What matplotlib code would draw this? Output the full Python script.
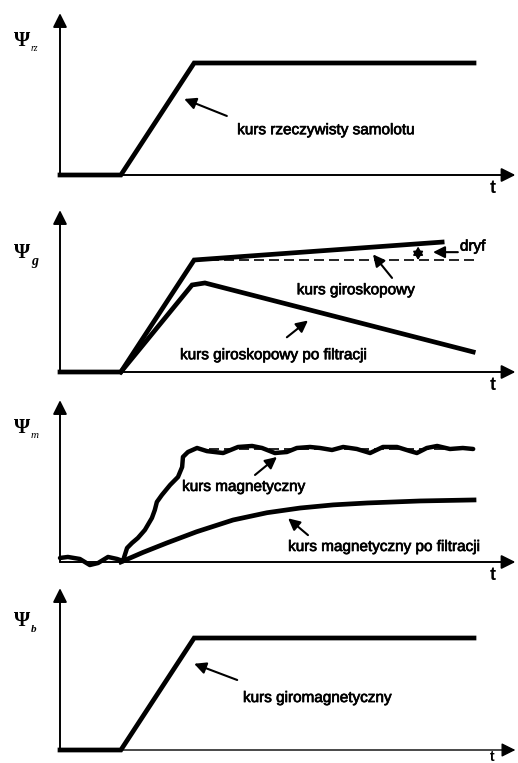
import matplotlib.pyplot as plt
import matplotlib.patheffects as pe

# heading curves, time in arbitrary units, heading normalised to the final value
t_true = [0.0, 1.47, 3.24, 10.0]
psi_true = [0.0, 0.0, 1.0, 1.0]

t_gyro = [0.0, 1.47, 3.24, 9.23]
psi_gyro = [0.0, 0.0, 1.0, 1.16]
t_gyro_filt = [1.47, 3.19, 3.50, 9.98]
psi_gyro_filt = [0.0, 0.777, 0.795, 0.179]

t_mag = [0.0, 0.19, 0.48, 0.72, 0.92, 1.16, 1.38, 1.52, 1.62, 1.74, 1.88, 2.05, 2.22,
         2.29, 2.34, 2.46, 2.66, 2.85, 2.95, 2.97, 3.09, 3.31, 3.55, 3.94, 4.30, 4.64,
         4.88, 5.19, 5.48, 5.72, 6.04, 6.28, 6.57, 6.84, 7.17, 7.49, 7.80, 8.14, 8.45,
         8.62, 8.86, 9.11, 9.42, 9.73, 9.98]
psi_mag = [0.036, 0.045, 0.027, -0.027, -0.009, 0.045, 0.027, 0.009, 0.125, 0.17, 0.214,
           0.286, 0.393, 0.464, 0.536, 0.598, 0.688, 0.759, 0.848, 0.938, 0.982, 1.018,
           0.99, 0.973, 1.027, 1.036, 1.018, 0.973, 0.982, 1.018, 1.027, 1.018, 1.0,
           1.027, 1.009, 0.973, 1.027, 1.027, 0.991, 0.973, 1.018, 1.036, 1.009, 1.018,
           1.009]
t_mag_filt = [1.47, 2.0, 2.58, 3.3, 4.18, 5.0, 5.80, 6.6, 7.42, 8.7, 10.0]
psi_mag_filt = [0.0, 0.085, 0.17, 0.27, 0.375, 0.44, 0.482, 0.51, 0.527, 0.545, 0.554]

t_ref = [3.24, 10.0]
psi_ref = [1.0, 1.0]

t_giromag = [0.0, 1.47, 3.24, 10.0]
psi_giromag = [0.0, 0.0, 1.0, 1.0]

# figure geometry (pixels)
W, H = 518, 763
X0, PX_T = 60, 41.4          # pixel of t=0, pixels per time unit
PX_PSI = 112                 # pixels per heading unit
bands = [(0, 197, 175), (197, 387, 372), (387, 577, 562), (577, 763, 750)]

fig = plt.figure(figsize=(W / 100, H / 100), dpi=100)
axes = []
for top, bot, base in bands:
    ax = fig.add_axes([0, 1 - bot / H, 1, (bot - top) / H])
    ax.set_xlim(-X0 / PX_T, (W - X0) / PX_T)
    ax.set_ylim(-(bot - base) / PX_PSI, (base - top) / PX_PSI)
    ax.axis('off')
    axes.append(ax)

LW = 3.4
sans = ['Liberation Sans', 'DejaVu Sans']
serif = ['Liberation Serif', 'DejaVu Serif']
heavy = [pe.withStroke(linewidth=0.5, foreground='black')]
head = dict(arrowstyle='-|>,head_length=0.7,head_width=0.35', color='black', lw=1.4,
            mutation_scale=12, shrinkA=0, shrinkB=0)
small_head = dict(arrowstyle='-|>,head_length=0.7,head_width=0.35', color='black', lw=1.5,
                  mutation_scale=10, shrinkA=0, shrinkB=0)


def frame(ax, psi_y, sub, sub_y, sub_style='italic', sub_weight='normal', sub_size=7,
          x_lw=1.4, t_y=-0.12, t_size=13):
    ax.annotate('', xy=(0, 1.445), xytext=(0, 0), arrowprops=head)
    ax.annotate('', xy=(11.0, 0), xytext=(0, 0), arrowprops=dict(head, lw=x_lw))
    ax.text(10.45, t_y, 't', fontsize=t_size, fontweight='bold', family=sans,
            ha='center', va='center')
    ax.text(-0.92, psi_y, 'Ψ', fontsize=15, fontweight='bold', family=serif,
            ha='center', va='center')
    ax.text(-0.70, sub_y, sub, fontsize=sub_size, style=sub_style, fontweight=sub_weight,
            family=serif, ha='left', va='center')


def label(ax, text, x, y, tail, tip, size=11):
    ax.text(x, y, text, fontsize=size, family=sans, ha='left', va='center',
            path_effects=heavy)
    ax.annotate('', xy=tip, xytext=tail, arrowprops=small_head)


# panel 1: true heading
ax = axes[0]
frame(ax, 1.20, 'rz', 1.13)
ax.plot(t_true, psi_true, color='black', lw=LW, solid_joinstyle='miter')
label(ax, 'kurs rzeczywisty samolotu', 4.28, 0.40, (4.03, 0.527), (3.0, 0.679))

# panel 2: gyro heading
ax = axes[1]
frame(ax, 1.06, 'g', 0.99, sub_weight='bold', sub_size=10)
ax.plot(t_ref, psi_ref, color='black', lw=1.2, ls=(0, (6, 3)))
ax.plot(t_gyro, psi_gyro, color='black', lw=LW, solid_joinstyle='miter')
ax.plot(t_gyro_filt, psi_gyro_filt, color='black', lw=LW, solid_joinstyle='miter')
label(ax, 'kurs giroskopowy', 5.72, 0.73, (8.02, 0.84), (7.56, 1.05))
label(ax, 'kurs giroskopowy po filtracji', 2.90, 0.15, (5.48, 0.31), (5.99, 0.46))
label(ax, 'dryf', 9.66, 1.12, (9.61, 1.07), (9.01, 1.07))
ax.annotate('', xy=(8.65, 1.12), xytext=(8.65, 1.0),
            arrowprops=dict(arrowstyle='<|-|>,head_length=0.5,head_width=0.3', color='black',
                            lw=1.2, mutation_scale=10, shrinkA=0, shrinkB=0))

# panel 3: magnetic heading
ax = axes[2]
frame(ax, 1.20, 'm', 1.13, sub_size=8)
ax.plot(t_ref, [1.01, 1.01], color='black', lw=1.2, ls=(0, (6, 3)))
ax.plot(t_mag, psi_mag, color='black', lw=3.2, solid_joinstyle='round', solid_capstyle='round')
ax.plot(t_mag_filt, psi_mag_filt, color='black', lw=LW)
label(ax, 'kurs magnetyczny', 2.95, 0.67, (4.71, 0.777), (5.24, 0.938))
label(ax, 'kurs magnetyczny po filtracji', 5.51, 0.134, (5.99, 0.24), (5.51, 0.39))

# panel 4: gyromagnetic heading
ax = axes[3]
frame(ax, 1.15, 'b', 1.08, sub_weight='bold', sub_size=8, x_lw=1.0, t_y=-0.06, t_size=10)
ax.plot(t_giromag, psi_giromag, color='black', lw=LW, solid_joinstyle='miter')
label(ax, 'kurs giromagnetyczny', 4.42, 0.464, (4.28, 0.625), (3.24, 0.77))

fig.savefig('out.png', dpi=100)
